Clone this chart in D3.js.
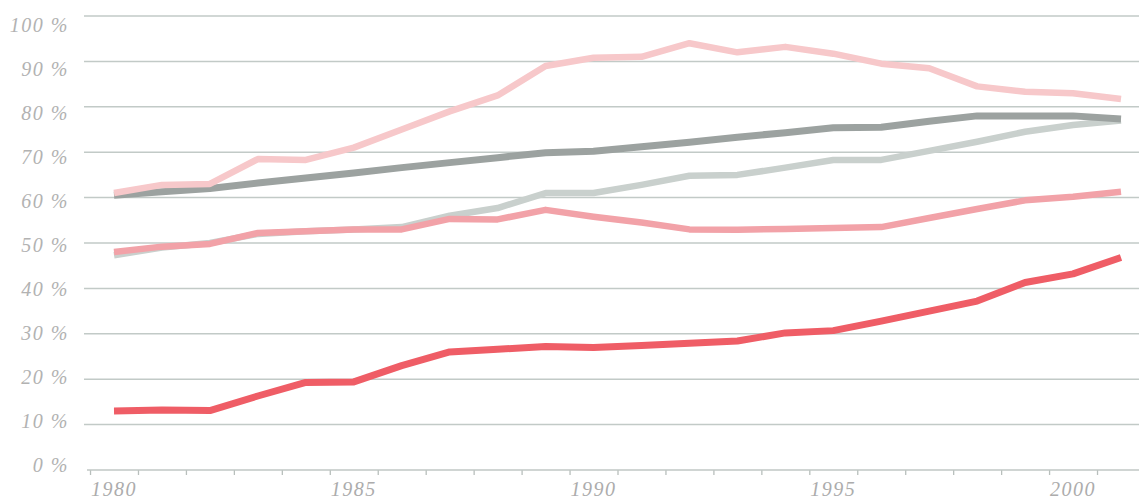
<!DOCTYPE html>
<html>
<head>
<meta charset="utf-8">
<script src="https://cdn.jsdelivr.net/npm/d3@7/dist/d3.min.js"></script>
<style>
  body { margin: 0; background: #fff; }
  text { font-family: "Liberation Serif", "DejaVu Serif", serif; font-style: italic; letter-spacing: 1.5px; }
</style>
</head>
<body>
<div id="chart"></div>
<script>
// data, percentages per year 1980-2001
let years = d3.range(1980, 2002);
let yTicks = [0, 10, 20, 30, 40, 50, 60, 70, 80, 90, 100];
let yLabels = ["0 %", "10 %", "20 %", "30 %", "40 %", "50 %", "60 %", "70 %", "80 %", "90 %", "100 %"];
let xLabels = [1980, 1985, 1990, 1995, 2000];

let topPink   = [61, 62.8, 63, 68.5, 68.3, 71, 75, 79, 82.5, 89, 90.8, 91, 94, 92, 93.2, 91.7, 89.5, 88.5, 84.5, 83.3, 83, 81.7];
let darkGray  = [60.5, 61.3, 62, 63.2, 64.3, 65.4, 66.6, 67.7, 68.8, 69.9, 70.2, 71.2, 72.2, 73.3, 74.3, 75.4, 75.5, 76.8, 78, 78, 78, 77.3];
let lightGray = [47.3, 49, 50, 52, 52.6, 53, 53.5, 56, 57.7, 61, 61, 62.8, 64.8, 65, 66.6, 68.3, 68.3, 70.3, 72.3, 74.5, 76, 77];
let midPink   = [48, 49.2, 49.8, 52.2, 52.6, 53, 53, 55.3, 55.2, 57.3, 55.8, 54.5, 53, 52.9, 53.1, 53.3, 53.5, 55.5, 57.5, 59.4, 60.2, 61.3];
let red       = [13, 13.2, 13.1, 16.3, 19.3, 19.4, 23, 26, 26.6, 27.2, 27, 27.4, 27.9, 28.4, 30.2, 30.7, 32.8, 35, 37.2, 41.3, 43.2, 46.8];

let series = [
  { values: lightGray, color: "#c9d0cd", width: 6.5 },
  { values: darkGray,  color: "#9ca2a0", width: 7 },
  { values: topPink,   color: "#f7c8ca", width: 6.5 },
  { values: midPink,   color: "#f2a2a8", width: 6.5 },
  { values: red,       color: "#ef5d66", width: 7 }
];

let width = 1139, height = 502;

let xScale = d3.scaleLinear().domain([1980, 2001]).range([114, 1121]);
let yScale = d3.scaleLinear().domain([0, 100]).range([470, 16]);
// the printed labels sit on a slightly tighter spacing than the rules
let labelScale = d3.scaleLinear().domain([0, 100]).range([465, 25]);

let svg = d3.select("#chart").append("svg")
  .attr("width", width)
  .attr("height", height);

// horizontal gridlines
svg.append("g").selectAll("line")
  .data(yTicks.filter(d => d > 0))
  .enter().append("line")
  .attr("x1", 84).attr("x2", width)
  .attr("y1", d => yScale(d)).attr("y2", d => yScale(d))
  .attr("stroke", "#c2cac7")
  .attr("stroke-width", 1.5);

// y labels
svg.append("g").selectAll("text")
  .data(yTicks)
  .enter().append("text")
  .attr("x", 69)
  .attr("y", d => labelScale(d))
  .attr("dy", "0.35em")
  .attr("text-anchor", "end")
  .attr("font-size", 20)
  .attr("fill", "#b2b2b2")
  .text((d, i) => yLabels[i]);

// x axis: ticks sit between years
let tickYears = d3.range(1979.5, 2002, 1);
let xAxis = d3.axisBottom(xScale)
  .tickValues(tickYears)
  .tickSize(5)
  .tickFormat("");
let gx = svg.append("g")
  .attr("transform", "translate(0," + yScale(0) + ")")
  .call(xAxis);
gx.select(".domain").remove();
gx.selectAll(".tick line").attr("stroke", "#b8bfbc").attr("stroke-width", 1.3);
gx.append("line")
  .attr("x1", 87).attr("x2", width)
  .attr("stroke", "#c0c7c4")
  .attr("stroke-width", 1.5);

svg.append("g").selectAll("text")
  .data(xLabels)
  .enter().append("text")
  .attr("x", d => xScale(d))
  .attr("y", 496)
  .attr("text-anchor", "middle")
  .attr("font-size", 20)
  .attr("fill", "#acacac")
  .text(d => d);

// the lines
let line = d3.line()
  .x((d, i) => xScale(years[i]))
  .y(d => yScale(d));

svg.append("g").selectAll("path")
  .data(series)
  .enter().append("path")
  .attr("d", d => line(d.values))
  .attr("fill", "none")
  .attr("stroke", d => d.color)
  .attr("stroke-width", d => d.width)
  .attr("stroke-linejoin", "round");
</script>
</body>
</html>
